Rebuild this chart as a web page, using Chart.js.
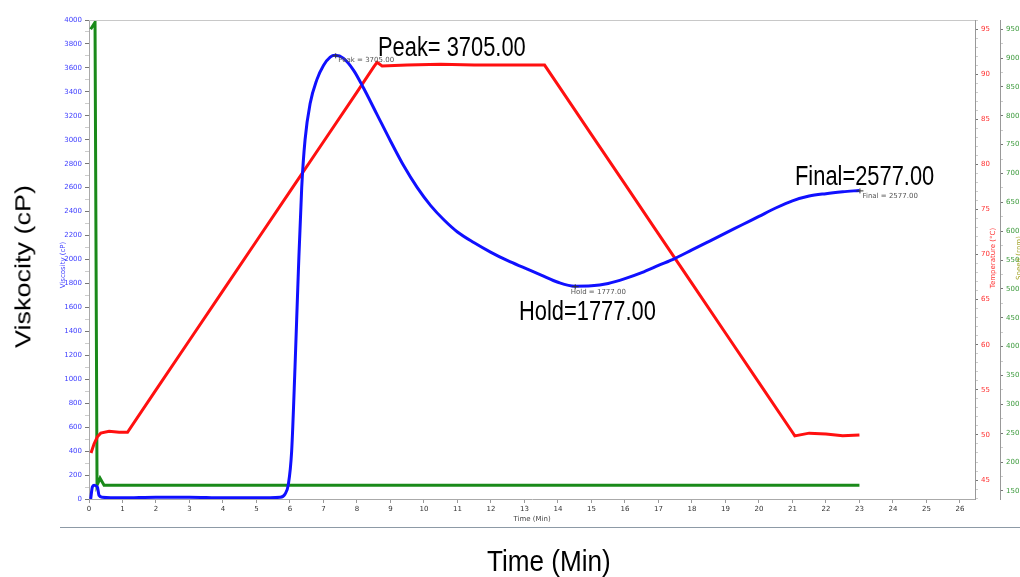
<!DOCTYPE html>
<html>
<head>
<meta charset="utf-8">
<script src="https://cdn.jsdelivr.net/npm/chart.js@4.4.1/dist/chart.umd.min.js"></script>
<style>
  html, body { margin:0; padding:0; background:#fff; }
  #wrap { position:relative; width:1020px; height:577px; overflow:hidden; }
  canvas { position:absolute; left:0; top:0; }
  .big { position:absolute; font-family:"Liberation Sans", Arial, sans-serif; font-size:27px; line-height:27px;
         color:#000; white-space:nowrap; transform-origin:0 0; transform:scaleX(0.81); }
</style>
</head>
<body>
<div id="wrap">
  <canvas id="rva" width="1020" height="577"></canvas>
  <div class="big" id="lblPeak" style="left:378px;top:34px"></div>
  <div class="big" id="lblFinal" style="left:795px;top:163px"></div>
  <div class="big" id="lblHold" style="left:519px;top:298px"></div>
  <div class="big" style="left:13px;top:348px;transform:rotate(-90deg) scaleY(0.81)">Viskocity (cP)</div>
  <div class="big" style="left:487px;top:547px;font-size:29px;line-height:29px;transform:scaleX(0.9)">Time (Min)</div>
</div>
<script>
// Viskozita (cP) v case (min)
const viscTime = [0.05,0.1,0.15,0.25,0.3,0.4,1,2,3,4,5,5.7,5.85,5.95,6.05,6.15,6.25,6.35,6.45,6.6,6.8,
  7.0,7.2,7.35,7.6,7.9,8.2,8.6,9.0,9.4,9.8,10.2,10.6,11.0,11.5,12.0,12.5,13.0,13.5,14.0,14.5,
  15.0,15.5,16.0,16.5,17.0,17.5,18.0,18.5,19.0,19.5,20.0,20.5,21.0,21.5,22.0,22.5,23.0];
const viscCp = [0,100,115,100,30,15,10,15,15,10,10,15,40,120,400,1100,1900,2600,3000,3300,3500,
  3620,3690,3705,3680,3580,3430,3210,2990,2780,2600,2450,2330,2230,2140,2060,1990,1930,1870,1810,1777,
  1780,1800,1840,1890,1950,2010,2080,2150,2220,2290,2360,2430,2490,2530,2550,2565,2577];

// Teplota (°C)
const tempTime = [0.06,0.15,0.25,0.35,0.6,0.9,1.15,2,3,4,5,6,7,8,8.5,8.6,8.75,9.5,10.5,11.5,12.5,13.6,
  14,15,16,17,18,19,20,21,21.07,21.5,22,22.5,23];
const tempC = [48.0,49.0,49.8,50.2,50.4,50.3,50.3,55.0,60.5,66.0,71.5,77.0,82.5,88.0,90.8,91.3,90.9,91.0,91.1,91.0,91.0,91.0,
  88.8,83.3,77.8,72.3,66.8,61.3,55.8,50.3,49.9,50.2,50.1,49.9,50.0];

// Otacky (rpm)
const speedTime = [0.05,0.18,0.24,0.28,0.33,0.45,23];
const speedRpm = [950,962,160,165,172,160,160];

// Vyznacene body
const markNames = ["Peak","Hold","Final"];
const markTimes = [7.35,14.5,23.0];
const markValues = [3705,1777,2577];
const markOffsets = [[3,5],[-4,6],[3,6]];

document.getElementById("lblPeak").textContent = "Peak= " + markValues[0].toFixed(2);
document.getElementById("lblHold").textContent = "Hold=" + markValues[1].toFixed(2);
document.getElementById("lblFinal").textContent = "Final=" + markValues[2].toFixed(2);

const pairs = (xs, ys) => xs.map((x,i)=>({x, y:ys[i]}));
const tickFont = { family:"DejaVu Sans", size:7 };

const extras = {
  id:"extras",
  afterDraw(chart){
    const c = chart.ctx, a = chart.chartArea;
    const sx = chart.scales.x, sy = chart.scales.y;
    c.save();
    // horni okraj
    c.strokeStyle = "#c8c8c8"; c.lineWidth = 1;
    c.beginPath(); c.moveTo(a.left, a.top+0.5); c.lineTo(a.right, a.top+0.5); c.stroke();
    // spodni oddelovac
    c.strokeStyle = "#8d9aa6";
    c.beginPath(); c.moveTo(60, 527.5); c.lineTo(1020, 527.5); c.stroke();

    c.font = '7px "DejaVu Sans"';
    c.textBaseline = "middle";
    // male popisky os
    c.fillStyle = "#444"; c.textAlign = "center";
    c.fillText("Time (Min)", 532, 519);
    c.save(); c.translate(63, 265); c.rotate(-Math.PI/2);
    c.fillStyle = "#4040ff"; c.fillText("Viscosity (cP)", 0, 0); c.restore();
    c.save(); c.translate(993, 258); c.rotate(-Math.PI/2);
    c.fillStyle = "#ff3030"; c.fillText("Temperature (°C)", 0, 0); c.restore();
    c.save(); c.translate(1019, 258); c.rotate(-Math.PI/2);
    c.fillStyle = "#a0a020"; c.fillText("Speed (rpm)", 0, 0); c.restore();

    // znacky Peak / Hold / Final
    c.textAlign = "left";
    markNames.forEach((n,i)=>{
      const px = sx.getPixelForValue(markTimes[i]);
      const py = sy.getPixelForValue(markValues[i]);
      c.strokeStyle = "#333"; c.lineWidth = 1;
      c.beginPath();
      c.moveTo(px-3, py+0.5); c.lineTo(px+4, py+0.5);
      c.moveTo(px+0.5, py-2); c.lineTo(px+0.5, py+3);
      c.stroke();
      c.fillStyle = "#555";
      c.fillText(n + " = " + markValues[i].toFixed(2), px+markOffsets[i][0], py+markOffsets[i][1]);
    });
    c.restore();
  }
};

new Chart(document.getElementById("rva"), {
  type:"line",
  data:{
    datasets:[
      { label:"Viscosity", data:pairs(viscTime, viscCp), yAxisID:"y",
        borderColor:"#1010ff", borderWidth:3, pointRadius:0, cubicInterpolationMode:"monotone" },
      { label:"Temperature", data:pairs(tempTime, tempC), yAxisID:"yT",
        borderColor:"#ff1010", borderWidth:3, pointRadius:0, tension:0 },
      { label:"Speed", data:pairs(speedTime, speedRpm), yAxisID:"yS",
        borderColor:"#1a8a1a", borderWidth:3, pointRadius:0, tension:0 }
    ]
  },
  options:{
    responsive:false, animation:false, devicePixelRatio:1,
    layout:{ padding:{ left:0, right:0, top:20, bottom:0 } },
    plugins:{ legend:{ display:false }, tooltip:{ enabled:false } },
    scales:{
      x:{ type:"linear", min:0, max:26.45,
        ticks:{ stepSize:1, includeBounds:false, color:"#333", font:tickFont, padding:2, maxRotation:0 },
        grid:{ drawOnChartArea:false, tickLength:4, tickColor:"#999" },
        border:{ color:"#aaa" },
        afterFit(s){ s.height = 78; } },
      y:{ position:"left", min:0, max:4000, weight:0,
        ticks:{ stepSize:100, autoSkip:false, color:"#4040ff", font:tickFont, padding:3,
          callback:v => v % 200 === 0 ? v : "" },
        grid:{ drawOnChartArea:false, tickLength:4,
          tickColor:ctx => ctx.tick && ctx.tick.value % 200 === 0 ? "#777" : "#ccc" },
        border:{ color:"#aaa" },
        afterFit(s){ s.width = 89; } },
      yT:{ position:"right", min:42.9, max:96.0, weight:0,
        ticks:{ stepSize:1, includeBounds:false, autoSkip:false, color:"#ff3030", font:tickFont, padding:3,
          callback:v => v % 5 === 0 ? v : "" },
        grid:{ drawOnChartArea:false, tickLength:3,
          tickColor:ctx => ctx.tick && ctx.tick.value % 5 === 0 ? "#777" : "#ccc" },
        border:{ color:"#999" },
        afterFit(s){ s.width = 25; } },
      yS:{ position:"right", min:136, max:966, weight:1,
        ticks:{ stepSize:25, includeBounds:false, autoSkip:false, color:"#3c9a3c", font:tickFont, padding:3,
          callback:v => v % 50 === 0 ? v : "" },
        grid:{ drawOnChartArea:false, tickLength:3,
          tickColor:ctx => ctx.tick && ctx.tick.value % 50 === 0 ? "#777" : "#ccc" },
        border:{ color:"#999" },
        afterFit(s){ s.width = 20; } }
    }
  },
  plugins:[extras]
});
</script>
</body>
</html>
